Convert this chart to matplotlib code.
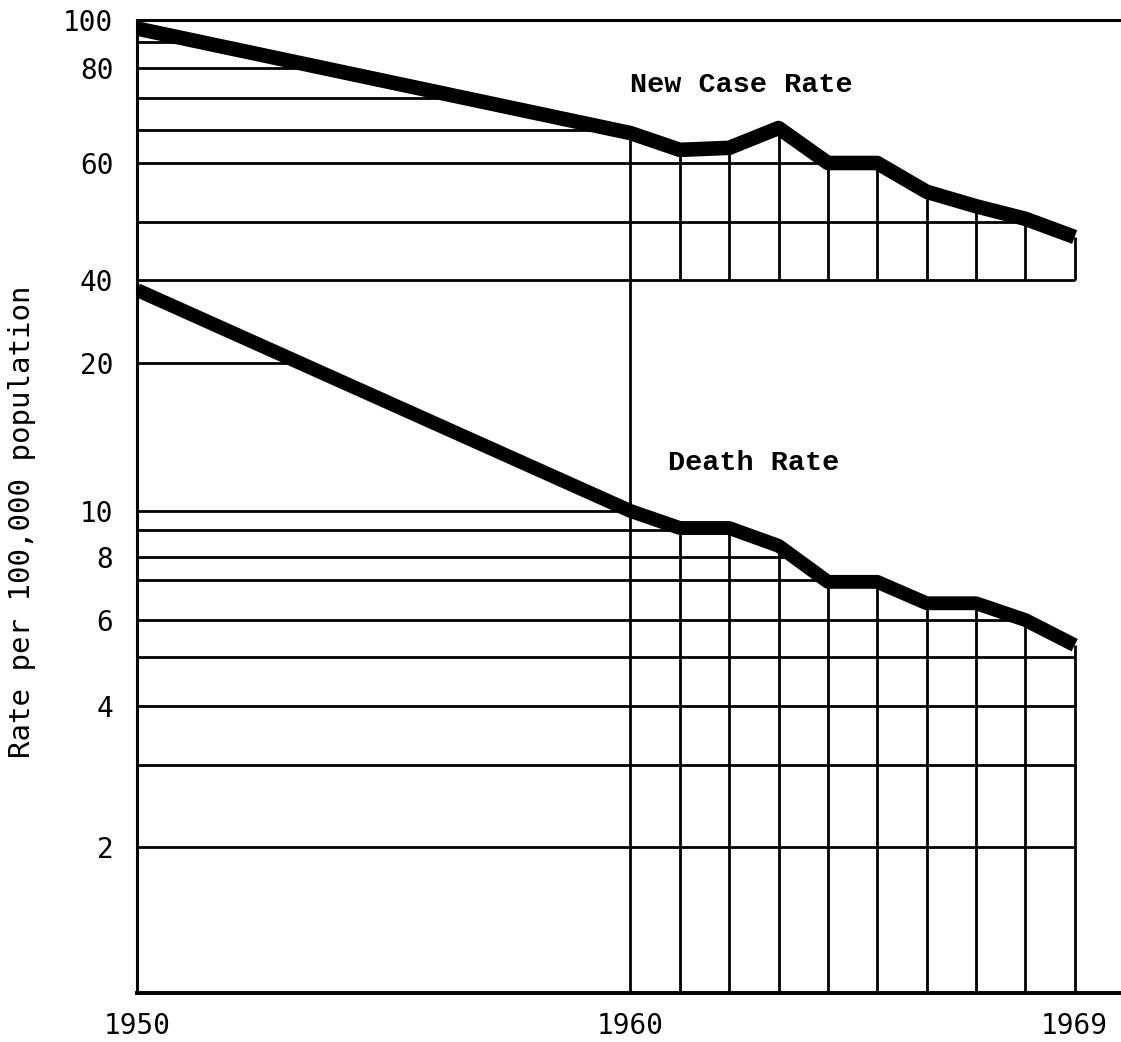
import numpy as np
import matplotlib
matplotlib.use("Agg")
import matplotlib.pyplot as plt
from matplotlib.patches import Polygon
from matplotlib.ticker import FixedLocator, NullLocator

# ── Data ───────────────────────────────────────────────────────────
years = [1950, 1960, 1961, 1962, 1963, 1964, 1965, 1966, 1967, 1968, 1969]
new_case = [96.0, 69.0, 63.8, 64.4, 70.3, 60.0, 60.0, 54.9, 52.5, 50.5, 47.2]
death = [36.8, 10.0, 9.1, 9.1, 8.4, 6.95, 6.95, 6.4, 6.4, 6.0, 5.3]

y_ticks = [100, 80, 60, 40, 20, 10, 8, 6, 4, 2]
grid_top = [90, 80, 75, 70, 60, 50]
grid_bottom = [20, 10, 9, 8, 7, 6, 5, 4, 3, 2]
x_ticks = [1950, 1960, 1969]

# ── Hand-drawn ratio scale: value -> height (px) above the x axis ─────
anchor_val = [1e-9, 1, 2, 3, 4, 5, 6, 7, 8, 9, 10, 20, 40, 50, 60, 70, 75, 80, 90, 100, 1e9]
anchor_h = [-4365, 0, 146, 228, 287, 336, 373, 413, 436, 463, 482, 630, 713, 771, 830,
            863, 895, 925, 951, 973, 4368]
LOGV = np.log10(anchor_val)
H = np.array(anchor_h, dtype=float)


def fwd(v):
    v = np.clip(np.asarray(v, dtype=float), 1e-9, 1e9)
    return np.interp(np.log10(v), LOGV, H)


def inv(h):
    return 10 ** np.interp(np.asarray(h, dtype=float), H, LOGV)


W, Hpx = 1121, 1042
fig = plt.figure(figsize=(W / 100, Hpx / 100), dpi=100)
ax = fig.add_axes([137 / W, (Hpx - 993) / Hpx, (W - 137) / W, (993 - 20) / Hpx])
ax.set_yscale("function", functions=(fwd, inv))
ax.set_xlim(1950, 1950 + (W - 137) / 49.35)
ax.set_ylim(1, 100)

grid_kw = dict(color="black", lw=2.0)

# horizontal grid, clipped to the area under each curve
top_clip = Polygon(list(zip(years, new_case)) + [(1969, 40), (1950, 40)],
                   closed=True, transform=ax.transData)
bot_clip = Polygon(list(zip(years, death)) + [(1969, 1), (1950, 1)],
                   closed=True, transform=ax.transData)
h1 = ax.hlines(grid_top, 1950, 1969, **grid_kw)
h1.set_clip_path(top_clip)
h2 = ax.hlines(grid_bottom, 1950, 1969, **grid_kw)
h2.set_clip_path(bot_clip)
ax.hlines(40, 1950, 1969, **grid_kw)

# vertical grid for the 1960s
ax.vlines(years[1], 1, new_case[1], **grid_kw)
ax.vlines(years[2:], 40, new_case[2:], **grid_kw)
ax.vlines(years[2:], 1, death[2:], **grid_kw)

# the two rate curves
ax.plot(years, new_case, color="black", lw=10.5, solid_joinstyle="round",
        solid_capstyle="butt", zorder=5)
ax.plot(years, death, color="black", lw=10, solid_joinstyle="round",
        solid_capstyle="butt", zorder=5)

ax.text(0.501, 0.933, "New Case Rate", transform=ax.transAxes, ha="left", va="center",
        fontsize=20.5, family="Liberation Mono", fontweight="bold")
ax.text(0.54, 0.545, "Death Rate", transform=ax.transAxes, ha="left", va="center",
        fontsize=20.5, family="Liberation Mono", fontweight="bold")

ax.yaxis.set_major_locator(FixedLocator(y_ticks))
ax.yaxis.set_minor_locator(NullLocator())
ax.set_yticklabels([str(t) for t in y_ticks], family="DejaVu Sans Mono", fontsize=20)
ax.set_xticks(x_ticks)
ax.set_xticklabels([str(t) for t in x_ticks], family="DejaVu Sans Mono", fontsize=20)
ax.tick_params(axis="y", length=0, pad=17)
ax.tick_params(axis="x", length=0, pad=14)

ax.spines["right"].set_visible(False)
ax.spines["left"].set_linewidth(2.2)
ax.spines["top"].set_linewidth(2.2)
ax.spines["bottom"].set_linewidth(2.8)

fig.text(22 / W, 1 - 522 / Hpx, "Rate per 100,000 population", rotation=90,
         ha="center", va="center", fontsize=21, family="DejaVu Sans Mono")

fig.savefig("out.png", dpi=100)
